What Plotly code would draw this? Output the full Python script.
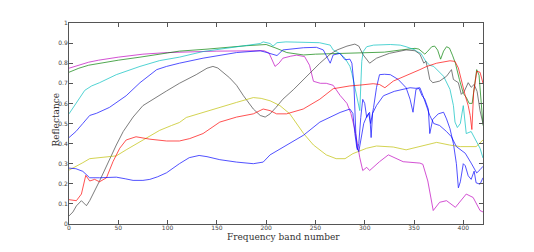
import plotly.graph_objects as go

# ---- data (band number, reflectance) ----
magenta_x = [0, 10, 20, 30, 50, 75, 100, 150, 180, 198, 203, 207, 209, 213, 217, 225, 231, 239, 244, 248, 255, 261, 268, 275, 282, 286, 290, 295, 298, 302, 305, 315, 324, 339, 356, 359, 364, 369.5, 376, 383, 392, 403, 410, 417, 420]
magenta_y = [0.775, 0.79, 0.805, 0.815, 0.83, 0.845, 0.853, 0.86, 0.863, 0.862, 0.85, 0.80, 0.784, 0.80, 0.825, 0.835, 0.84, 0.833, 0.79, 0.71, 0.70, 0.70, 0.69, 0.64, 0.60, 0.55, 0.47, 0.33, 0.266, 0.282, 0.266, 0.31, 0.344, 0.31, 0.303, 0.297, 0.214, 0.067, 0.108, 0.116, 0.083, 0.149, 0.132, 0.067, 0.06]

green_x = [0, 10, 20, 31, 50, 72, 100, 112, 140, 150, 180, 200, 205, 210, 221, 238, 250, 285, 295, 320, 337, 351, 355, 361, 364, 368, 371, 374, 377, 380, 383, 386, 389, 392, 396, 400, 403, 406, 409, 411, 413.6, 416, 418, 420]
green_y = [0.755, 0.775, 0.79, 0.80, 0.815, 0.83, 0.85, 0.86, 0.87, 0.875, 0.887, 0.893, 0.882, 0.875, 0.853, 0.841, 0.845, 0.849, 0.852, 0.855, 0.866, 0.874, 0.87, 0.845, 0.86, 0.882, 0.885, 0.865, 0.82, 0.86, 0.882, 0.875, 0.84, 0.80, 0.72, 0.65, 0.63, 0.60, 0.60, 0.68, 0.768, 0.74, 0.62, 0.49]

cyan_x = [0, 5, 10, 16, 23, 31, 48, 72, 92, 112, 136, 170, 194, 197, 204, 207, 211, 220, 254, 265, 268, 274, 280, 285, 287, 290, 291.5, 293, 295, 297, 298.5, 302, 309, 326, 336, 342, 351, 353, 357, 359, 362, 366, 370, 380, 386.5, 390, 391.6, 394, 397, 400, 403, 408, 412, 417, 420]
cyan_y = [0.548, 0.585, 0.621, 0.665, 0.687, 0.703, 0.743, 0.784, 0.813, 0.83, 0.858, 0.882, 0.898, 0.906, 0.898, 0.885, 0.902, 0.906, 0.902, 0.89, 0.866, 0.85, 0.825, 0.784, 0.75, 0.68, 0.646, 0.60, 0.564, 0.809, 0.858, 0.882, 0.89, 0.893, 0.89, 0.882, 0.866, 0.858, 0.849, 0.833, 0.809, 0.79, 0.784, 0.735, 0.67, 0.589, 0.507, 0.48, 0.50, 0.589, 0.45, 0.46, 0.425, 0.377, 0.328]

blue1_x = [0, 7, 14, 21, 28, 41, 58, 72, 89, 99, 112, 136, 170, 194, 200, 206, 211, 217, 238, 251, 258, 265, 268, 275, 280, 285, 287, 289, 291, 292.5, 294, 296, 298, 300, 302, 304, 306, 309, 312, 315, 320, 326, 334, 342, 346, 349, 352, 355, 358, 361, 364.5, 366, 369, 374.6, 380, 383, 386.5, 390, 393, 395, 397, 400, 402, 405, 408, 411, 413, 417, 420]
blue1_y = [0.43, 0.46, 0.50, 0.54, 0.551, 0.58, 0.638, 0.703, 0.768, 0.784, 0.80, 0.825, 0.853, 0.862, 0.854, 0.845, 0.838, 0.866, 0.877, 0.879, 0.866, 0.80, 0.841, 0.849, 0.817, 0.82, 0.80, 0.70, 0.45, 0.37, 0.40, 0.53, 0.62, 0.60, 0.53, 0.55, 0.50, 0.58, 0.68, 0.743, 0.745, 0.743, 0.719, 0.678, 0.621, 0.556, 0.67, 0.675, 0.64, 0.62, 0.572, 0.45, 0.52, 0.548, 0.556, 0.523, 0.474, 0.40, 0.30, 0.18, 0.21, 0.30, 0.29, 0.24, 0.222, 0.263, 0.205, 0.198, 0.23]

black_x = [0, 4, 7.5, 12.6, 17.7, 21, 31, 40, 48, 55, 65, 75, 85, 99, 112, 129, 140, 146, 151, 163, 170, 177, 187, 194, 199, 204, 210, 217, 228, 238, 254.5, 265, 272, 282, 290, 294, 298.5, 305, 312, 325, 342, 351, 356, 360, 362, 364, 366, 369, 376, 383, 388, 390, 395, 398, 401, 405, 408, 411, 414, 417, 420]
black_y = [0.04, 0.06, 0.09, 0.116, 0.091, 0.116, 0.214, 0.31, 0.393, 0.46, 0.532, 0.589, 0.621, 0.662, 0.70, 0.743, 0.775, 0.784, 0.776, 0.727, 0.69, 0.638, 0.572, 0.54, 0.532, 0.548, 0.58, 0.621, 0.67, 0.719, 0.80, 0.845, 0.866, 0.885, 0.895, 0.885, 0.841, 0.80, 0.825, 0.849, 0.866, 0.862, 0.845, 0.80, 0.81, 0.77, 0.719, 0.703, 0.711, 0.735, 0.768, 0.719, 0.703, 0.645, 0.66, 0.703, 0.68, 0.694, 0.66, 0.564, 0.499]

yellow_x = [0, 7, 14, 21, 31, 48, 58, 72, 80, 92, 104, 112, 119, 136, 153, 170, 187, 195, 204, 214, 224, 234, 238, 248, 261, 271, 280, 288, 302, 312, 329, 342, 355, 373, 386, 397, 413, 420]
yellow_y = [0.268, 0.285, 0.305, 0.325, 0.331, 0.339, 0.369, 0.409, 0.43, 0.466, 0.49, 0.505, 0.53, 0.556, 0.58, 0.605, 0.629, 0.625, 0.613, 0.589, 0.548, 0.474, 0.45, 0.393, 0.344, 0.325, 0.325, 0.35, 0.377, 0.388, 0.383, 0.369, 0.385, 0.406, 0.393, 0.385, 0.385, 0.418]

red_x = [0, 7.5, 12.6, 17, 21, 26, 31, 38, 44.7, 51.5, 58, 68, 82, 99, 112, 122.5, 136, 153, 170, 187, 197, 204, 210.6, 220.7, 237.6, 254.5, 268, 285, 295, 308.6, 315, 320.5, 329, 339, 351, 356, 363, 373, 386.5, 391.6, 395, 398, 400, 402, 405, 407, 408.7, 410.5, 413.7, 417, 420]
red_y = [0.121, 0.116, 0.149, 0.242, 0.214, 0.222, 0.21, 0.23, 0.311, 0.377, 0.418, 0.434, 0.422, 0.413, 0.413, 0.425, 0.45, 0.507, 0.532, 0.548, 0.572, 0.564, 0.548, 0.548, 0.572, 0.621, 0.673, 0.687, 0.691, 0.698, 0.694, 0.678, 0.711, 0.731, 0.757, 0.768, 0.784, 0.80, 0.812, 0.809, 0.776, 0.711, 0.67, 0.638, 0.589, 0.54, 0.47, 0.654, 0.76, 0.755, 0.70]

blue2_x = [0, 7, 14, 19, 21, 31, 48, 57, 65, 75, 82, 90, 99, 112, 122, 132, 140, 153, 170, 187, 197, 204, 221, 238, 254.5, 264.7, 275, 285, 288, 290, 292, 294, 296, 299, 302, 305, 306.5, 308, 312, 319, 330, 342, 346, 352, 356, 359, 362, 366, 370, 376, 383, 388, 393, 397, 402, 408, 413.6, 417, 420]
blue2_y = [0.278, 0.275, 0.262, 0.24, 0.23, 0.23, 0.233, 0.225, 0.217, 0.217, 0.222, 0.235, 0.255, 0.30, 0.33, 0.341, 0.335, 0.32, 0.308, 0.30, 0.308, 0.344, 0.393, 0.442, 0.507, 0.532, 0.555, 0.572, 0.55, 0.45, 0.38, 0.36, 0.41, 0.50, 0.535, 0.556, 0.43, 0.55, 0.59, 0.638, 0.66, 0.673, 0.678, 0.675, 0.678, 0.64, 0.60, 0.54, 0.50, 0.49, 0.46, 0.434, 0.385, 0.37, 0.352, 0.303, 0.254, 0.27, 0.287]

x_ticks = [0, 50, 100, 150, 200, 250, 300, 350, 400]
y_ticks = [0, 0.1, 0.2, 0.3, 0.4, 0.5, 0.6, 0.7, 0.8, 0.9, 1]
y_tick_labels = ["0", "0.1", "0.2", "0.3", "0.4", "0.5", "0.6", "0.7", "0.8", "0.9", "1"]

series = [
    (magenta_x, magenta_y, "#bf00bf"),
    (green_x, green_y, "#008000"),
    (cyan_x, cyan_y, "#00bfbf"),
    (blue1_x, blue1_y, "#0000ff"),
    (black_x, black_y, "#404040"),
    (yellow_x, yellow_y, "#bfbf00"),
    (red_x, red_y, "#ff0000"),
    (blue2_x, blue2_y, "#0000ff"),
]

fig = go.Figure()
for xs, ys, c in series:
    fig.add_trace(go.Scatter(x=xs, y=ys, mode="lines", line=dict(color=c, width=0.8),
                             opacity=0.85, showlegend=False, hoverinfo="skip"))

axis_common = dict(
    showline=True, linecolor="#555555", linewidth=1, mirror="ticks",
    ticks="inside", ticklen=4, tickcolor="#555555",
    showgrid=False, zeroline=False,
    tickfont=dict(family="DejaVu Sans", size=6, color="#444444"),
)
fig.update_xaxes(range=[0, 420], tickvals=x_ticks, ticklabelstandoff=-2, **axis_common)
fig.update_yaxes(range=[0, 1], tickvals=y_ticks, ticktext=y_tick_labels, ticklabelstandoff=-1, **axis_common)

fig.add_annotation(text="Frequency band number", xref="paper", yref="paper", x=0.5, y=0, xshift=7, yshift=-13,
                   xanchor="center", yanchor="middle", showarrow=False,
                   font=dict(family="DejaVu Serif", size=9, color="#333333"))
fig.add_annotation(text="Reflectance", xref="paper", yref="paper", x=0, y=0.5, xshift=-14, yshift=4,
                   xanchor="center", yanchor="middle", textangle=-90, showarrow=False,
                   font=dict(family="DejaVu Serif", size=9, color="#333333"))

# the page body adds an 8px offset, so the figure is sized to the remaining window
fig.update_layout(
    width=526, height=244,
    margin=dict(l=61, r=51, t=11, b=28),
    paper_bgcolor="white", plot_bgcolor="white",
)
fig.write_html("out.html")
